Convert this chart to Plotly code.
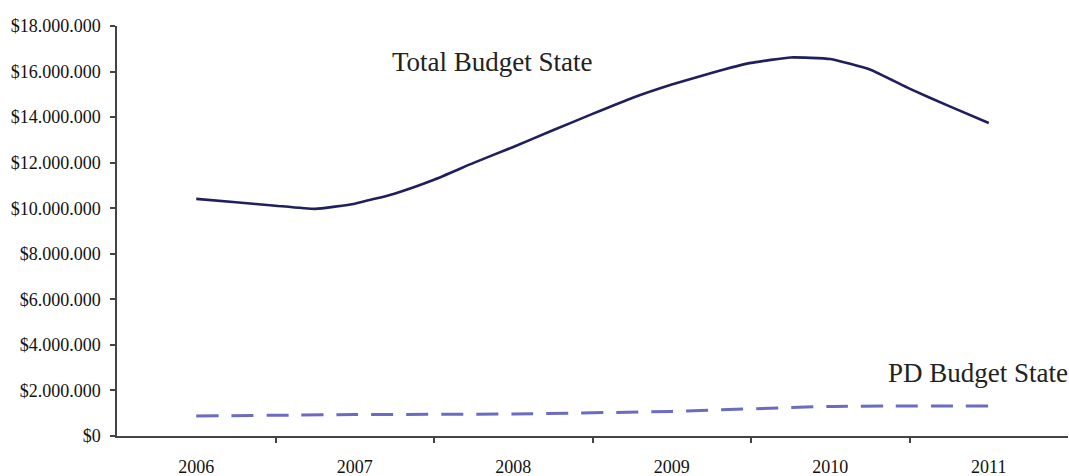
import plotly.graph_objects as go

# ---- data ----
years = [2006, 2007, 2008, 2009, 2010, 2011]
year_labels = ["2006", "2007", "2008", "2009", "2010", "2011"]

total_x = [2006.0, 2006.25, 2006.5, 2006.75, 2007.0, 2007.25, 2007.5, 2007.75,
           2008.0, 2008.25, 2008.5, 2008.75, 2009.0, 2009.25, 2009.5, 2009.75,
           2010.0, 2010.25, 2010.5, 2010.75, 2011.0]
total_budget = [10.41e6, 10.26e6, 10.11e6, 9.97e6, 10.20e6, 10.64e6, 11.25e6, 11.99e6,
                12.69e6, 13.42e6, 14.14e6, 14.84e6, 15.43e6, 15.94e6, 16.38e6, 16.62e6,
                16.55e6, 16.09e6, 15.25e6, 14.48e6, 13.74e6]

pd_budget = [0.88e6, 0.94e6, 0.97e6, 1.08e6, 1.30e6, 1.32e6]

y_ticks = [0, 2e6, 4e6, 6e6, 8e6, 10e6, 12e6, 14e6, 16e6, 18e6]
y_tick_labels = ["$0", "$2.000.000", "$4.000.000", "$6.000.000", "$8.000.000",
                 "$10.000.000", "$12.000.000", "$14.000.000", "$16.000.000", "$18.000.000"]

FONT = "Liberation Serif"

fig = go.Figure()
fig.add_trace(go.Scatter(
    x=total_x, y=total_budget, mode="lines", name="Total Budget State",
    line=dict(color="#1f1f5e", width=2.6, shape="spline", smoothing=0.4),
    hoverinfo="skip"))
fig.add_trace(go.Scatter(
    x=years, y=pd_budget, mode="lines", name="PD Budget State",
    line=dict(color="#6b6bc2", width=3, dash="22px,13px", shape="spline", smoothing=0.5),
    hoverinfo="skip"))

fig.add_annotation(text="Total Budget State", x=2007.87, y=16.4e6, xref="x", yref="y",
                   showarrow=False, font=dict(family=FONT, size=27, color="#222222"))
fig.add_annotation(text="PD Budget State", x=2010.93, y=2.77e6, xref="x", yref="y",
                   showarrow=False, font=dict(family=FONT, size=27, color="#222222"))

fig.update_layout(
    width=1069, height=476,
    margin=dict(l=117, r=1, t=26, b=40),
    paper_bgcolor="white", plot_bgcolor="white",
    showlegend=False,
    font=dict(family=FONT, color="#222222"),
    xaxis=dict(
        range=[2005.5, 2011.5],
        tickvals=years, ticktext=year_labels,
        ticks="", showgrid=False, zeroline=False, automargin=False,
        showline=True, linecolor="#444444", linewidth=1.5,
        tickfont=dict(family=FONT, size=18, color="#111111"),
        ticklabelstandoff=14,
        minor=dict(tickvals=[2006.5, 2007.5, 2008.5, 2009.5, 2010.5],
                   ticks="outside", ticklen=5, tickcolor="#444444", tickwidth=1.5,
                   showgrid=False),
    ),
    yaxis=dict(
        range=[0, 18e6],
        tickvals=y_ticks, ticktext=y_tick_labels,
        ticks="outside", ticklen=5, tickcolor="#444444", tickwidth=1.5,
        showgrid=False, zeroline=False, automargin=False,
        showline=True, linecolor="#444444", linewidth=1.5,
        tickfont=dict(family=FONT, size=18, color="#111111"),
        ticklabelstandoff=6,
    ),
)

fig.write_html("out.html", config={"displayModeBar": False},
               post_script="document.body.style.margin='0';")
